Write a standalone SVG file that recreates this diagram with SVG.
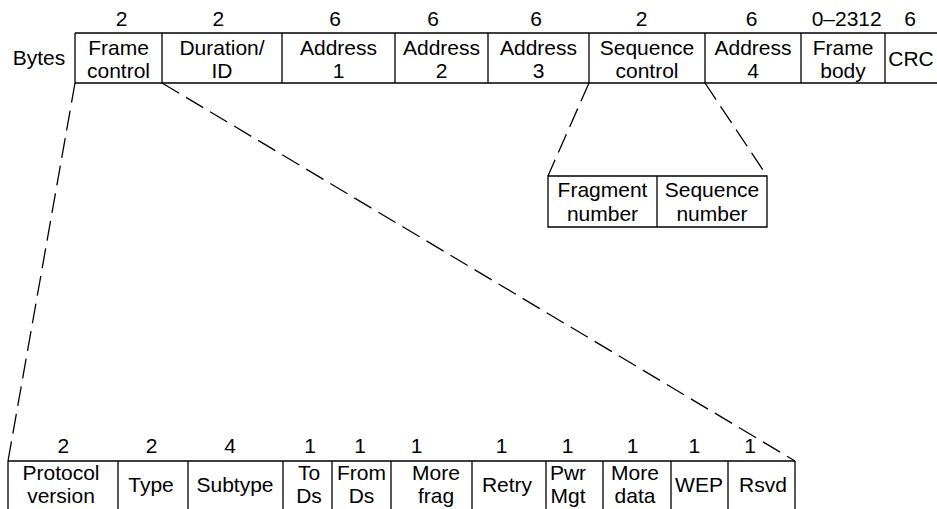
<svg xmlns="http://www.w3.org/2000/svg" width="937" height="509" viewBox="0 0 937 509">
<style>
text{font-family:"Liberation Sans",Arial,Helvetica,sans-serif;font-size:21px;fill:#000;text-anchor:middle}
.ln{stroke:#000;stroke-width:1.3;fill:none}
.dash{stroke:#000;stroke-width:1.3;fill:none;stroke-dasharray:20 8}
</style>
<rect width="937" height="509" fill="#fff"/>
<g id="bytes-label"><text x="39" y="65">Bytes</text></g>
<g id="frame-row">
<path class="ln" d="M75,33H937M75,83H937M75,33V83M162,33V83M282,33V83M395,33V83M488,33V83M589,33V83M705,33V83M801,33V83M885,33V83"/>
</g>
<g id="frame-control"><text x="121.7" y="26">2</text><text x="118.5" y="55">Frame</text><text x="118.5" y="78">control</text></g>
<g id="duration-id"><text x="218.3" y="26">2</text><text x="222" y="55">Duration/</text><text x="222" y="78">ID</text></g>
<g id="address1"><text x="335" y="26">6</text><text x="338.5" y="55">Address</text><text x="338.5" y="78">1</text></g>
<g id="address2"><text x="433" y="26">6</text><text x="441.5" y="55">Address</text><text x="441.5" y="78">2</text></g>
<g id="address3"><text x="536" y="26">6</text><text x="538.5" y="55">Address</text><text x="538.5" y="78">3</text></g>
<g id="sequence-control"><text x="641.7" y="26">2</text><text x="647" y="55">Sequence</text><text x="647" y="78">control</text></g>
<g id="address4"><text x="751.7" y="26">6</text><text x="753" y="55">Address</text><text x="753" y="78">4</text></g>
<g id="frame-body"><text x="846.7" y="26">0–2312</text><text x="843" y="55">Frame</text><text x="843" y="78">body</text></g>
<g id="crc"><text x="910" y="26">6</text><text x="911" y="66">CRC</text></g>
<g id="seq-detail">
<path class="ln" d="M548,176H767V227H548ZM657,176V227"/>
<text x="602.5" y="197">Fragment</text><text x="602.5" y="221">number</text>
<text x="712" y="197">Sequence</text><text x="712" y="221">number</text>
</g>
<g id="fc-row">
<path class="ln" d="M8,461H795M8,461V510M118,461V510M188,461V510M283,461V510M332,461V510M391,461V510M472,461V510M546,461V510M603,461V510M671,461V510M728,461V510M795,461V510"/>
</g>
<g id="protocol-version"><text x="63.3" y="453">2</text><text x="61" y="480">Protocol</text><text x="61" y="503">version</text></g>
<g id="type"><text x="151.7" y="453">2</text><text x="151" y="492">Type</text></g>
<g id="subtype"><text x="230" y="453">4</text><text x="235" y="492">Subtype</text></g>
<g id="to-ds"><text x="310" y="453">1</text><text x="309" y="480">To</text><text x="309" y="503">Ds</text></g>
<g id="from-ds"><text x="360" y="453">1</text><text x="361.5" y="480">From</text><text x="361.5" y="503">Ds</text></g>
<g id="more-frag"><text x="416.7" y="453">1</text><text x="436" y="480">More</text><text x="436" y="503">frag</text></g>
<g id="retry"><text x="501.7" y="453">1</text><text x="507" y="492">Retry</text></g>
<g id="pwr-mgt"><text x="567.7" y="453">1</text><text x="568" y="480">Pwr</text><text x="568" y="503">Mgt</text></g>
<g id="more-data"><text x="632.7" y="453">1</text><text x="635" y="480">More</text><text x="635" y="503">data</text></g>
<g id="wep"><text x="694.3" y="453">1</text><text x="699" y="492">WEP</text></g>
<g id="rsvd"><text x="750" y="453">1</text><text x="763" y="492">Rsvd</text></g>
<g id="connectors">
<path class="dash" d="M75,83L8,461"/>
<path class="dash" d="M162,83L795,461"/>
<path class="dash" d="M589,83L548,176"/>
<path class="dash" d="M705,83L767,176"/>
</g>
</svg>
